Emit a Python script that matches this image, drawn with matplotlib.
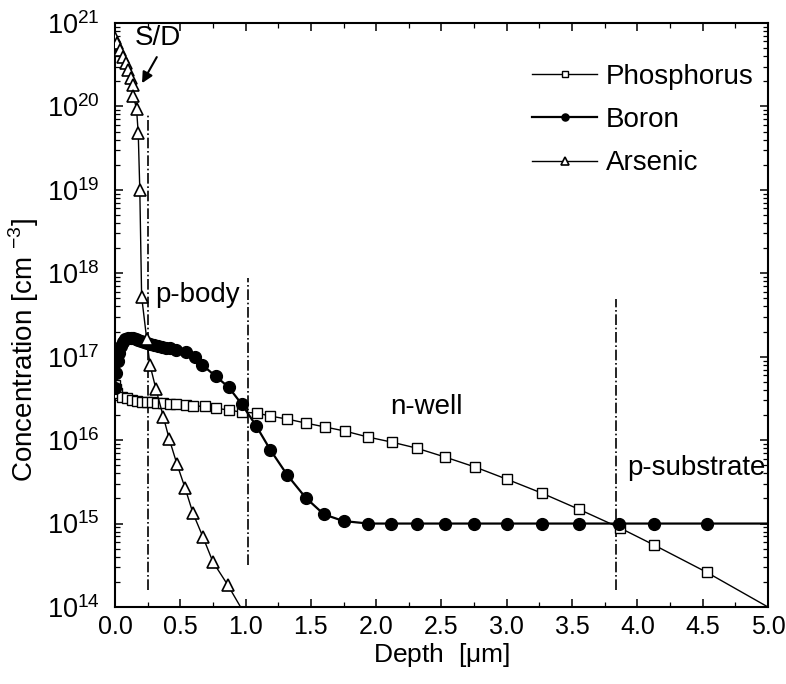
import numpy as np
import matplotlib
matplotlib.use("Agg")
import matplotlib.pyplot as plt
from matplotlib.ticker import LogLocator, MultipleLocator, FormatStrFormatter

# Depth in um, concentration as log10(cm^-3)
p_depth = [0.0, 0.005, 0.015, 0.05, 0.09, 0.13, 0.17, 0.21, 0.245, 0.28, 0.32,
           0.37, 0.42, 0.47, 0.54, 0.60, 0.69, 0.77, 0.87, 0.97, 1.09, 1.19,
           1.32, 1.46, 1.61, 1.76, 1.94, 2.12, 2.31, 2.53, 2.76, 3.00, 3.27,
           3.55, 3.87, 4.13, 4.53, 5.00]
p_log = [16.66, 16.61, 16.563, 16.516, 16.504, 16.48, 16.472, 16.46, 16.456,
         16.452, 16.448, 16.44, 16.432, 16.428, 16.42, 16.41, 16.404, 16.384,
         16.36, 16.336, 16.324, 16.288, 16.252, 16.205, 16.157, 16.109, 16.036,
         15.976, 15.904, 15.796, 15.676, 15.532, 15.364, 15.173, 14.945,
         14.741, 14.417, 14.0]

b_depth = [0.0, 0.01, 0.02, 0.03, 0.045, 0.06, 0.08, 0.10, 0.12, 0.14, 0.16,
           0.18, 0.20, 0.22, 0.245, 0.27, 0.30, 0.33, 0.36, 0.39, 0.42, 0.47,
           0.54, 0.61, 0.67, 0.77, 0.87, 0.97, 1.08, 1.19, 1.32, 1.46, 1.60,
           1.75, 1.94, 2.11, 2.31, 2.53, 2.75, 3.00, 3.27, 3.55, 3.86, 4.13,
           4.53, 5.00]
b_log = [16.62, 16.80, 16.95, 17.05, 17.13, 17.18, 17.21, 17.22, 17.225, 17.22,
         17.21, 17.20, 17.19, 17.175, 17.163, 17.15, 17.14, 17.13, 17.12, 17.11,
         17.103, 17.08, 17.055, 16.995, 16.899, 16.767, 16.635, 16.432, 16.174,
         15.882, 15.58, 15.31, 15.11, 15.03, 15.0, 15.0, 15.0, 15.0, 15.0, 15.0,
         15.0, 15.0, 15.0, 15.0, 15.0, 15.0]

as_depth = [0.0, 0.013, 0.038, 0.064, 0.084, 0.10, 0.122, 0.136, 0.14, 0.165,
            0.178, 0.19, 0.204, 0.243, 0.268, 0.314, 0.37, 0.416, 0.475, 0.536,
            0.597, 0.674, 0.75, 0.865, 0.98]
as_log = [20.82, 20.757, 20.676, 20.596, 20.52, 20.436, 20.34, 20.257, 20.13,
          19.97, 19.68, 19.0, 17.72, 17.21, 16.90, 16.61, 16.28, 16.01, 15.71,
          15.43, 15.125, 14.837, 14.54, 14.26, 13.95]

# region boundaries: depth, bottom, top
bound_depth = [0.25, 1.02, 3.84]
bound_low = [1.6e14, 3.2e14, 1.6e14]
bound_high = [8e19, 8.7e17, 4.9e17]

region_names = ["p-body", "n-well", "p-substrate"]
region_x = [0.31, 2.11, 3.92]
region_y = [5.5e17, 2.5e16, 4.6e15]

plt.rcParams['font.family'] = ['Liberation Sans', 'DejaVu Sans']
plt.rcParams['mathtext.fontset'] = 'custom'
plt.rcParams['mathtext.rm'] = 'Liberation Sans'

fig = plt.figure(figsize=(7.86, 6.84), dpi=100)
ax = fig.add_axes([0.1463, 0.1126, 0.977 - 0.1463, 0.9664 - 0.1126])

p_conc = 10 ** np.array(p_log)
b_conc = 10 ** np.array(b_log)
as_conc = 10 ** np.array(as_log)

ax.plot(p_depth, p_conc, color='black', lw=1.0, marker='s', ms=6.5,
        mfc='white', mec='black', mew=1.0,
        markevery=list(range(len(p_depth) - 1)), label='Phosphorus', zorder=3)
ax.plot(b_depth, b_conc, color='black', lw=1.6, marker='o', ms=8.5,
        mfc='black', mec='black',
        markevery=list(range(len(b_depth) - 1)), label='Boron', zorder=4)
ax.plot(as_depth, as_conc, color='black', lw=1.0, marker='^', ms=8.5,
        mfc='white', mec='black', mew=1.2,
        markevery=list(range(len(as_depth) - 1)), label='Arsenic', zorder=5)

for xb, lo, hi in zip(bound_depth, bound_low, bound_high):
    ax.vlines(xb, lo, hi, colors='black', linestyles='dashdot', lw=1.2, zorder=2)

for name, xr, yr in zip(region_names, region_x, region_y):
    ax.text(xr, yr, name, fontsize=20, ha='left', va='center')

# S/D label with arrow pointing at the arsenic peak
ax.text(0.33, 6.6e20, 'S/D', fontsize=20, ha='center', va='center')
ax.annotate('', xy=(0.207, 1.9e20), xytext=(0.32, 3.9e20),
            arrowprops=dict(arrowstyle='-|>', color='black', lw=1.5,
                            mutation_scale=16, shrinkA=0, shrinkB=0))

ax.set_yscale('log')
ax.set_xlim(0, 5)
ax.set_ylim(1e14, 1e21)
ax.xaxis.set_major_locator(MultipleLocator(0.5))
ax.xaxis.set_minor_locator(MultipleLocator(0.25))
ax.xaxis.set_major_formatter(FormatStrFormatter('%.1f'))
ax.yaxis.set_major_locator(LogLocator(base=10, numticks=20))
ax.yaxis.set_minor_locator(LogLocator(base=10, subs=np.arange(2, 10), numticks=20))

ax.tick_params(which='both', direction='in', top=True, right=True)
ax.tick_params(which='major', length=6, width=1.1)
ax.tick_params(which='minor', length=3.5, width=0.9)
ax.tick_params(axis='x', which='major', pad=6, labelsize=18)
ax.tick_params(axis='y', which='major', pad=11, labelsize=19.5)
for s in ax.spines.values():
    s.set_linewidth(1.5)

ax.set_xlabel('Depth  [$\\mathrm{\\mu}$m]', fontsize=19)
ax.set_ylabel('Concentration [cm $^{-3}$]', fontsize=20)
ax.xaxis.set_label_coords(0.5, -0.058)
ax.yaxis.set_label_coords(-0.113, 0.44)

ax.legend(loc='upper left', frameon=False, fontsize=20, handlelength=2.35,
          markerscale=0.6, bbox_to_anchor=(0.6386, 0.93), labelspacing=0.62,
          handletextpad=0.3, borderpad=0, borderaxespad=0)

fig.savefig('out.png', dpi=100)
